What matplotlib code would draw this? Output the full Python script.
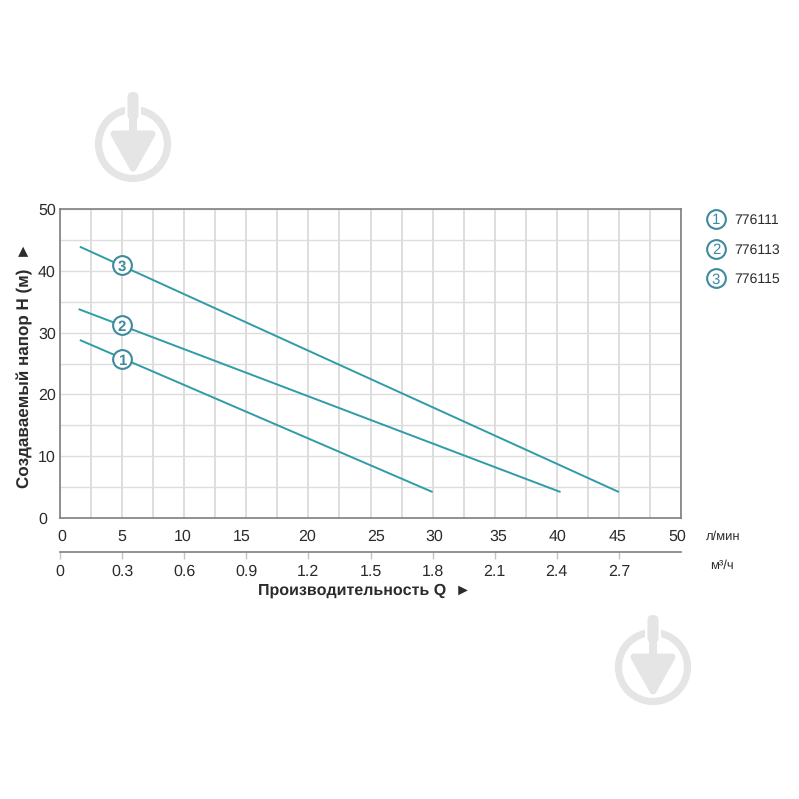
"""Pump head vs flow chart with two flow scales and watermark."""

import matplotlib

matplotlib.use("Agg")
import matplotlib.pyplot as plt
from matplotlib.patches import Circle, FancyBboxPatch, Polygon, Rectangle
from matplotlib.transforms import ScaledTranslation

plt.rcParams["font.family"] = ["Liberation Sans", "DejaVu Sans"]
plt.rcParams["text.hinting"] = "no_hinting"
plt.rcParams["text.hinting_factor"] = 1

W = H = 799

LMIN_TICKS = [0, 5, 10, 15, 20, 25, 30, 35, 40, 45, 50]
M3H_TICKS = [0, 0.3, 0.6, 0.9, 1.2, 1.5, 1.8, 2.1, 2.4, 2.7]
M3H_LABELS = ["0", "0.3", "0.6", "0.9", "1.2", "1.5", "1.8", "2.1", "2.4", "2.7"]
HEAD_TICKS = [0, 10, 20, 30, 40, 50]

CURVE_IDS = ["1", "2", "3"]
MODELS = ["776111", "776113", "776115"]
FLOW_1 = [1.6, 30.0]
HEAD_1 = [28.8, 4.2]
FLOW_2 = [1.5, 40.3]
HEAD_2 = [33.8, 4.2]
FLOW_3 = [1.6, 45.0]
HEAD_3 = [43.9, 4.2]
BADGE_FLOW = [5, 5, 5]
BADGE_HEAD = [25.7, 31.2, 40.9]

# the original labels sit a little off their gridlines (pixels)
LMIN_SHIFT = [2, 0, -2, -5, -1, 6, 2, 4, 1, -1, -4]

TEAL = "#2f9ca8"
BADGE = "#3f8a9c"
GRID = "#dcdcdc"
SPINE = "#7f7f7f"
TEXT = "#2b2b2b"
MARK = "#e5e5e5"


def px_axes(fig, left, top, right, bottom):
    return fig.add_axes([left / W, 1 - bottom / H, (right - left) / W, (bottom - top) / H])


def watermark(ov, cx, cy):
    ov.add_patch(Circle((cx, cy), 34.5, fill=False, edgecolor=MARK, linewidth=5.2, zorder=1))
    ov.add_patch(Rectangle((cx - 8, cy - 42), 16, 20, facecolor="white", edgecolor="none", zorder=2))
    ov.add_patch(FancyBboxPatch((cx - 5.5, cy - 52), 11, 28, boxstyle="round,pad=0,rounding_size=5",
                                facecolor=MARK, edgecolor="none", zorder=3))
    ov.add_patch(Rectangle((cx - 4, cy - 30), 8, 20, facecolor=MARK, edgecolor="none", zorder=3))
    ov.add_patch(Polygon([(cx - 19, cy - 10), (cx + 19, cy - 10), (cx, cy + 24)], closed=True,
                         facecolor=MARK, edgecolor=MARK, linewidth=5, joinstyle="round", zorder=3))


fig = plt.figure(figsize=(W / 100, H / 100), dpi=100, facecolor="white")

# overlay in pixel coordinates for watermark and legend
ov = fig.add_axes([0, 0, 1, 1], zorder=0)
ov.set_xlim(0, W)
ov.set_ylim(H, 0)
ov.axis("off")
watermark(ov, 133, 144)
watermark(ov, 653, 667)

ax = px_axes(fig, 60, 209, 681, 518)
ax.set_zorder(2)
ax.patch.set_alpha(0)
ax.set_xlim(0, 50)
ax.set_ylim(0, 50)
ax.set_xticks(LMIN_TICKS)
ax.set_yticks(HEAD_TICKS)
ax.set_xticks([v + 2.5 for v in LMIN_TICKS[:-1]], minor=True)
ax.set_yticks([v + 5 for v in HEAD_TICKS[:-1]], minor=True)
ax.grid(True, which="both", axis="y", color=GRID, linewidth=1.0)
ax.grid(True, which="both", axis="x", color="#d8d8d8", linewidth=1.2)
ax.set_axisbelow(True)
ax.tick_params(which="both", length=0)
ax.tick_params(axis="both", labelsize=11.5, labelcolor=TEXT)
ax.tick_params(axis="x", pad=8)
ax.tick_params(axis="y", pad=15.8)
for label in ax.get_yticklabels():
    label.set_ha("left")
for label, dx in zip(ax.get_xticklabels(), LMIN_SHIFT):
    label.set_transform(label.get_transform() + ScaledTranslation(dx / 100, 0, fig.dpi_scale_trans))
for s in ax.spines.values():
    s.set_color(SPINE)
    s.set_linewidth(1.2)

for fx, fy in [(FLOW_1, HEAD_1), (FLOW_2, HEAD_2), (FLOW_3, HEAD_3)]:
    ax.plot(fx, fy, color=TEAL, linewidth=1.4, solid_capstyle="butt", zorder=3)
for cid, bx, by in zip(CURVE_IDS, BADGE_FLOW, BADGE_HEAD):
    ax.plot([bx], [by], marker="o", markersize=13.5, markerfacecolor="white",
            markeredgecolor=BADGE, markeredgewidth=1.5, zorder=4)
    ax.text(bx, by, cid, ha="center", va="center_baseline", fontsize=11, fontweight="bold",
            color=BADGE, zorder=5)

ov.text(24.5, 365, "Создаваемый напор H (м)  ►", rotation=90, ha="center", va="center",
        fontsize=12, fontweight="bold", color=TEXT)

# second flow scale in m3/h
ax2 = px_axes(fig, 60, 540, 681, 552)
ax2.set_zorder(2)
ax2.patch.set_alpha(0)
ax2.set_xlim(0, 3.0)
ax2.set_yticks([])
for name in ["top", "left", "right"]:
    ax2.spines[name].set_visible(False)
ax2.spines["bottom"].set_color(SPINE)
ax2.spines["bottom"].set_linewidth(1.2)
ax2.set_xticks(M3H_TICKS, M3H_LABELS)
ax2.tick_params(axis="x", length=5, width=1, color="#c4c4c4", labelsize=11.5, labelcolor=TEXT, pad=4)
ax2.get_xticklines()[0].set_color(SPINE)

ov.text(364, 590.5, "Производительность Q  ►", ha="center", va="center", fontsize=11.5,
        fontweight="bold", color=TEXT)
ov.text(723, 537, "л/мин", ha="center", va="center", fontsize=9.3, color=TEXT)
ov.text(722, 566, "м³/ч", ha="center", va="center", fontsize=9.3, color=TEXT)

for i, (cid, model) in enumerate(zip(CURVE_IDS, MODELS)):
    y = 219 + 29.5 * i
    ov.plot([716], [y], marker="o", markersize=13.5, markerfacecolor="white",
            markeredgecolor=BADGE, markeredgewidth=1.5)
    ov.text(716, y, cid, ha="center", va="center_baseline", fontsize=11, color=BADGE)
    ov.text(734, y, model, ha="left", va="center_baseline", fontsize=10.3, color=TEXT)

fig.savefig("out.png", dpi=100)
